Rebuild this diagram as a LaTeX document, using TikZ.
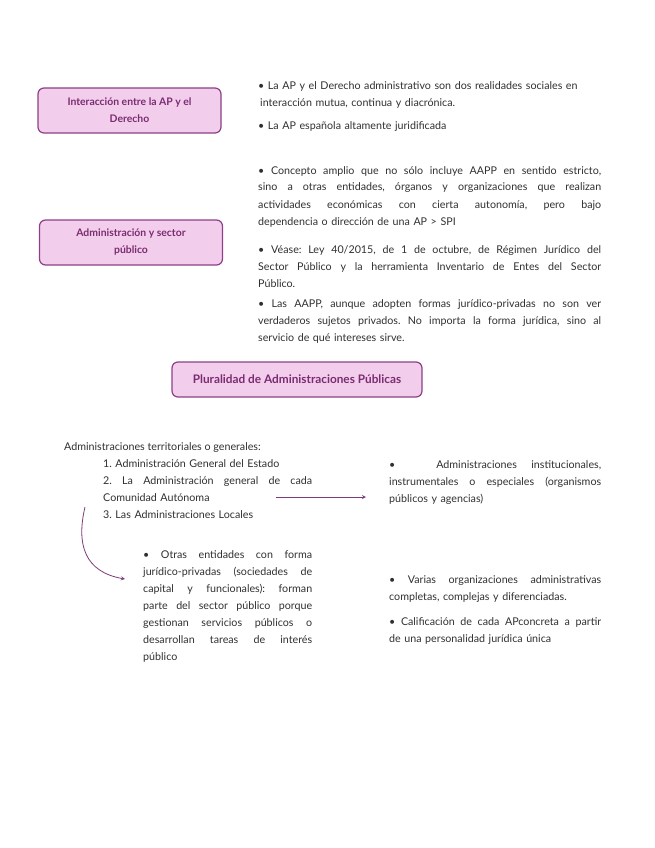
\documentclass[tikz,border=0pt]{standalone}
\usepackage{fontspec}
\setmainfont{Lato}
\usetikzlibrary{positioning}
\definecolor{boxfill}{HTML}{F2CEEC}
\definecolor{boxline}{HTML}{8E3F87}
\definecolor{boxtext}{HTML}{7A2C70}
\definecolor{bodytext}{HTML}{303030}
\definecolor{arrowline}{HTML}{7B3A78}
\newcommand{\jline}[1]{\makebox[\hsize][s]{\spaceskip=0pt\xspaceskip=0pt\relax #1}\\}
\frenchspacing

\begin{document}
\begin{tikzpicture}[x=1pt,y=-1pt,
        topic/.style={draw=boxline, fill=boxfill, line width=1.2pt, rounded corners=6pt,
            text=boxtext, font=\fontsize{10.4}{17}\selectfont\bfseries, align=center,
            inner sep=0pt, minimum width=183pt, minimum height=45pt},
        body/.style={text=bodytext, font=\fontsize{10.7}{17}\selectfont, anchor=base west,
            inner sep=0pt, align=left},
        link/.style={arrowline, line width=0.8pt, -stealth}]

    \useasboundingbox (0,0) rectangle (655,848);

    % upper part
    \node[topic] (interaccion) at (129.5,110.5) {Interacción entre la AP y el\\Derecho};
    \node[topic] (sector) at (131,242.5) {Administración y sector\\público};

    \path (258,90)
    node[body, text width=340pt] (realidades) {• La AP y el Derecho administrativo son dos realidades sociales en\\\hspace*{2pt}interacción mutua, continua y diacrónica.};
    \path (258,129)
    node[body, text width=340pt] (juridificada) {• La AP española altamente juridificada};

    \path (258,174)
    node[body, text width=343pt] (concepto) {\jline{• Concepto amplio que no sólo incluye AAPP en sentido estricto,}
        \jline{sino a otras entidades, órganos y organizaciones que realizan}
        \jline{actividades económicas con cierta autonomía, pero bajo}
        dependencia o dirección de una AP > SPI};
    \path (258,253)
    node[body, text width=343pt] (vease) {\jline{• Véase: Ley 40/2015, de 1 de octubre, de Régimen Jurídico del}
        \jline{Sector Público y la herramienta Inventario de Entes del Sector}
        Público.};
    \path (258,307)
    node[body, text width=343pt] (formas) {\jline{• Las AAPP, aunque adopten formas jurídico-privadas no son ver}
        \jline{verdaderos sujetos privados. No importa la forma jurídica, sino al}
        servicio de qué intereses sirve.};

    % lower part
    \node[topic, minimum width=250pt, minimum height=35pt, font=\fontsize{11.8}{17}\selectfont\bfseries]
    (pluralidad) at (297,379.5) {Pluralidad de Administraciones Públicas};

    \path (64,450)
    node[body] (territoriales) {Administraciones territoriales o generales:};
    \path (103,467)
    node[body, text width=209pt] (lista) {1. Administración General del Estado\\
        \jline{2. La Administración general de cada}
        Comunidad Autónoma\\
        3. Las Administraciones Locales};

    \path (389,468)
    node[body, text width=212pt] (institucionales) {\jline{• \hspace{12pt} Administraciones institucionales,}
        \jline{instrumentales o especiales (organismos}
        públicos y agencias)};

    \path (143,558)
    node[body, text width=169pt] (otras) {\jline{• Otras entidades con forma}
        \jline{jurídico-privadas (sociedades de}
        \jline{capital y funcionales): forman}
        \jline{parte del sector público porque}
        \jline{gestionan servicios públicos o}
        \jline{desarrollan tareas de interés}
        público};

    \path (389,583)
    node[body, text width=212pt] (varias) {\jline{• Varias organizaciones administrativas}
        completas, complejas y diferenciadas.};
    \path (389,625)
    node[body, text width=212pt] (calificacion) {\jline{• Calificación de cada APconcreta a partir}
        de una personalidad jurídica única};

    % arrows
    \coordinate (salida) at (276,497);
    \coordinate (llegada) at (366,497);
    \coordinate (bajada) at (85,507);
    \coordinate (giro) at (125,579);
    \draw[link] (salida) -- (llegada);
    \draw[link] (bajada) .. controls (76,545) and (85,572) .. (giro);

\end{tikzpicture}
\end{document}
